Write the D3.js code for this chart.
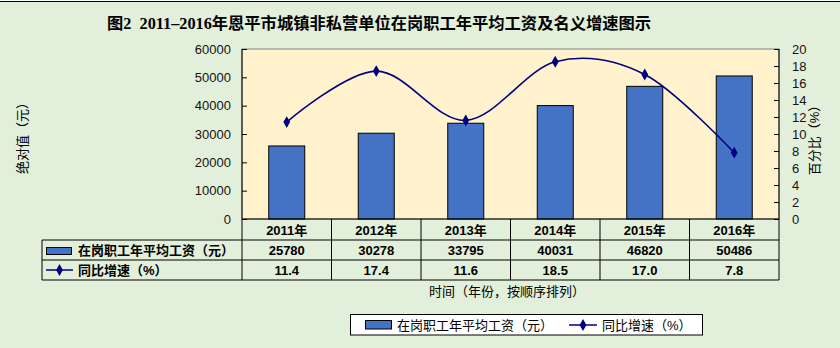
<!DOCTYPE html>
<html><head><meta charset="utf-8">
<script src="https://cdn.jsdelivr.net/npm/d3@7"></script>
<style>
html,body{margin:0;padding:0;background:#e2efda;}
svg{display:block;}
text{white-space:pre;}
</style>
</head><body>
<svg id="c" width="840" height="348"></svg>
<script>
const years = ["2011年","2012年","2013年","2014年","2015年","2016年"];
const wages = [25780, 30278, 33795, 40031, 46820, 50486];
const growth = [11.4, 17.4, 11.6, 18.5, 17.0, 7.8];
const growthLabels = ["11.4","17.4","11.6","18.5","17.0","7.8"];
const leftTicks = [0,10000,20000,30000,40000,50000,60000];
const rightTicks = [0,2,4,6,8,10,12,14,16,18,20];
const seriesNames = ["在岗职工年平均工资（元）","同比增速（%）"];

const svg = d3.select("#c");
const W = 840, H = 348;
const L = 242, R = 779, T = 49, B = 219;
const cjk = "Arial, 'Liberation Sans', 'Noto Sans CJK SC', sans-serif";
const blue = "#4472c4", navy = "#000080";

// background
svg.append("rect").attr("x",0).attr("y",0).attr("width",W).attr("height",H).attr("fill","#e2efda");
svg.append("rect").attr("x",0).attr("y",0).attr("width",W).attr("height",1).attr("fill","#fff");
svg.append("line").attr("x1",0).attr("x2",W).attr("y1",1.5).attr("y2",1.5).attr("stroke","#000").attr("stroke-width",1.2);

// title
svg.append("text").attr("x",107).attr("y",29).attr("xml:space","preserve")
  .attr("font-family","'Times New Roman','Liberation Serif','Noto Sans CJK SC',serif")
  .attr("font-weight","bold").attr("font-size",16).attr("fill","#000")
  .attr("textLength",544).attr("lengthAdjust","spacingAndGlyphs")
  .text("图2  2011–2016年恩平市城镇非私营单位在岗职工年平均工资及名义增速图示");

const x = d3.scaleBand().domain(years).range([L,R]);
const yL = d3.scaleLinear().domain([0,60000]).range([B,T]);
const yR = d3.scaleLinear().domain([0,20]).range([B,T]);

// plot area
svg.append("rect").attr("x",L).attr("y",T).attr("width",R-L).attr("height",B-T)
  .attr("fill","#fff2cc").attr("stroke","#808080").attr("stroke-width",1);

// bars
svg.selectAll("rect.bar").data(wages).enter().append("rect").attr("class","bar")
  .attr("x",(d,i)=>x(years[i])+x.bandwidth()/2-18)
  .attr("width",36)
  .attr("y",d=>yL(d)).attr("height",d=>B-yL(d))
  .attr("fill",blue).attr("stroke","#000").attr("stroke-width",1);

// axes
const axL = d3.axisLeft(yL).tickValues(leftTicks).tickSize(-5).tickPadding(11).tickFormat(d3.format("d"));
const gL = svg.append("g").attr("transform",`translate(${L},0)`).call(axL);
const axR = d3.axisRight(yR).tickValues(rightTicks).tickSize(-5).tickPadding(13).tickFormat(d3.format("d"));
const gR = svg.append("g").attr("transform",`translate(${R},0)`).call(axR);
[gL,gR].forEach(g=>{
  g.select(".domain").remove();
  g.selectAll("line").attr("stroke","#000");
  g.selectAll("text").attr("font-family",cjk).attr("font-size",13).attr("fill","#1a1010");
});
svg.append("line").attr("x1",L).attr("x2",L).attr("y1",T).attr("y2",280).attr("stroke","#000");
svg.append("line").attr("x1",R).attr("x2",R).attr("y1",T).attr("y2",280).attr("stroke","#000");

// line
const pts = growth.map((d,i)=>[x(years[i])+x.bandwidth()/2, yR(d)]);
svg.append("path").attr("d",d3.line().curve(d3.curveCatmullRom.alpha(0))(pts))
  .attr("fill","none").attr("stroke",navy).attr("stroke-width",1.6);
const diamond = d3.symbol().type(d3.symbolDiamond).size(40);
svg.selectAll("path.mk").data(pts).enter().append("path").attr("class","mk")
  .attr("d",diamond).attr("transform",d=>`translate(${d[0]},${d[1]})`).attr("fill",navy);

// axis titles
svg.append("text").attr("transform","translate(27,135) rotate(-90)").attr("text-anchor","middle")
  .attr("font-family",cjk).attr("font-size",13).attr("fill","#000").text("绝对值（元）");
svg.append("text").attr("transform","translate(819,137) rotate(-90)").attr("text-anchor","middle")
  .attr("font-family",cjk).attr("font-size",13).attr("fill","#000").text("百分比（%）");

// data table
const tbl = svg.append("g");
tbl.append("line").attr("x1",L).attr("x2",R).attr("y1",B).attr("y2",B).attr("stroke","#000");
[240,260,280].forEach(yv=>tbl.append("line").attr("x1",42).attr("x2",R).attr("y1",yv).attr("y2",yv).attr("stroke","#000"));
tbl.append("line").attr("x1",42).attr("x2",42).attr("y1",240).attr("y2",280).attr("stroke","#000");
years.forEach((y,i)=>{
  if(i>0) tbl.append("line").attr("x1",x(y)).attr("x2",x(y)).attr("y1",B).attr("y2",280).attr("stroke","#000");
});
const tf = t=>t.attr("font-family",cjk).attr("font-weight","bold").attr("font-size",13).attr("fill","#000").attr("text-anchor","middle");
tbl.selectAll("text.yr").data(years).enter().append("text").attr("class","yr")
  .attr("x",d=>x(d)+x.bandwidth()/2).attr("y",235).text(d=>d).call(tf);
tbl.selectAll("text.wv").data(wages).enter().append("text").attr("class","wv")
  .attr("x",(d,i)=>x(years[i])+x.bandwidth()/2).attr("y",255).text(d=>d).call(tf);
tbl.selectAll("text.gv").data(growthLabels).enter().append("text").attr("class","gv")
  .attr("x",(d,i)=>x(years[i])+x.bandwidth()/2).attr("y",275).text(d=>d).call(tf);
// row labels
tbl.append("rect").attr("x",46.5).attr("y",247.5).attr("width",25).attr("height",7).attr("fill",blue).attr("stroke","#000");
tbl.append("text").attr("x",78).attr("y",255).text(seriesNames[0]).call(tf).attr("text-anchor","start");
tbl.append("line").attr("x1",46).attr("x2",73).attr("y1",270).attr("y2",270).attr("stroke",navy).attr("stroke-width",1.5);
tbl.append("path").attr("d",diamond).attr("transform","translate(59.5,270)").attr("fill",navy);
tbl.append("text").attr("x",78).attr("y",275).text(seriesNames[1]).call(tf).attr("text-anchor","start");

// x axis title
svg.append("text").attr("x",507).attr("y",296).attr("text-anchor","middle")
  .attr("font-family",cjk).attr("font-size",13).attr("fill","#000").text("时间（年份，按顺序排列）");

// legend
const lg = svg.append("g");
lg.append("rect").attr("x",350.5).attr("y",314.5).attr("width",352).attr("height",20.5).attr("fill","#fff").attr("stroke","#000");
lg.append("rect").attr("x",365.5).attr("y",320.5).attr("width",26).attr("height",8.5).attr("fill",blue).attr("stroke","#000");
lg.append("text").attr("x",397).attr("y",329.5).attr("font-family",cjk).attr("font-size",13).attr("fill","#000").text(seriesNames[0]);
lg.append("line").attr("x1",569).attr("x2",597).attr("y1",325).attr("y2",325).attr("stroke",navy).attr("stroke-width",1.5);
lg.append("path").attr("d",diamond).attr("transform","translate(583,325)").attr("fill",navy);
lg.append("text").attr("x",602).attr("y",329.5).attr("font-family",cjk).attr("font-size",13).attr("fill","#000").text(seriesNames[1]);
</script>
</body></html>
